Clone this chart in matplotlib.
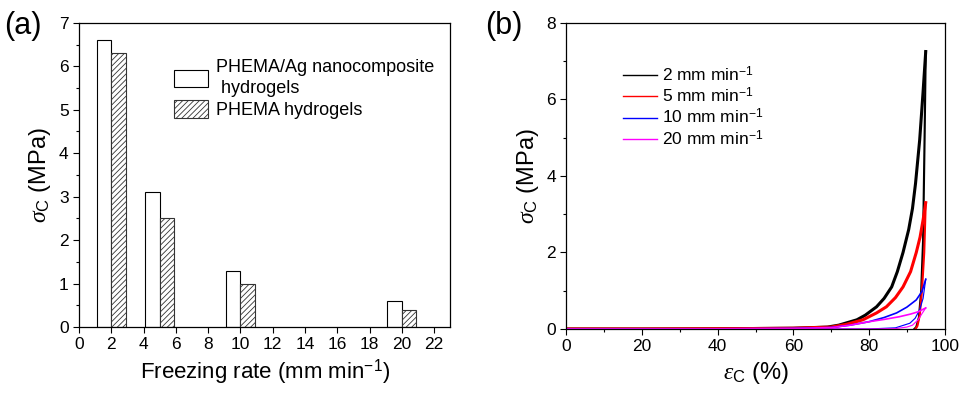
import numpy as np
import matplotlib.pyplot as plt
from matplotlib.ticker import MultipleLocator

plt.rcParams['font.family'] = ['Liberation Sans', 'DejaVu Sans']
plt.rcParams['mathtext.fontset'] = 'custom'
plt.rcParams['mathtext.rm'] = 'Liberation Sans'
plt.rcParams['mathtext.it'] = 'Liberation Serif:italic'
plt.rcParams['hatch.linewidth'] = 0.6

# panel (a): compressive strength vs freezing rate
rates = [2, 5, 10, 20]
ag_strength = [6.6, 3.1, 1.3, 0.6]
phema_strength = [6.3, 2.5, 1.0, 0.4]

# panel (b): loading / unloading cycles (strain %, stress MPa)
speed_labels = ['2 mm min$^{-1}$', '5 mm min$^{-1}$', '10 mm min$^{-1}$', '20 mm min$^{-1}$']
speed_colors = ['black', 'red', 'blue', 'magenta']
load_strain = [
    [0, 20, 40, 60, 69, 72, 76.8, 79, 82, 84, 86, 87.5, 89, 90.5, 91.5, 92.3, 93.4, 94.3, 95],
    [0, 20, 40, 60, 70, 74, 78.4, 82, 84.6, 87, 89, 91, 92.5, 93.5, 94.3, 95],
    [0, 20, 40, 60, 70, 75, 80, 84, 87.3, 90, 92.5, 94, 95],
    [0, 20, 40, 60, 70, 75, 80, 84, 88, 91, 93, 95],
]
load_stress = [
    [0, 0, 0.005, 0.02, 0.05, 0.1, 0.24, 0.36, 0.58, 0.8, 1.1, 1.5, 2.0, 2.6, 3.15, 3.8, 4.94, 6.2, 7.25],
    [0, 0, 0.005, 0.02, 0.05, 0.12, 0.24, 0.42, 0.58, 0.82, 1.1, 1.5, 2.0, 2.4, 2.85, 3.3],
    [0, 0, 0.004, 0.015, 0.04, 0.1, 0.19, 0.3, 0.42, 0.57, 0.76, 0.98, 1.3],
    [0, 0, 0.004, 0.015, 0.035, 0.1, 0.19, 0.25, 0.32, 0.39, 0.45, 0.55],
]
unload_strain = [
    [95, 94.7, 94.3, 93.8, 93.2, 92.5, 92],
    [95, 94.6, 94.0, 93.4, 92.8, 92.3],
    [95, 94.3, 93.4, 92.2, 90.8, 87, 80, 0],
    [95, 94, 93, 91.5, 90, 87, 80, 0],
]
unload_stress = [
    [7.25, 5.0, 2.3, 1.0, 0.3, 0.05, 0],
    [3.3, 2.0, 1.0, 0.35, 0.08, 0],
    [1.3, 0.8, 0.5, 0.28, 0.15, 0.03, 0, 0],
    [0.55, 0.4, 0.24, 0.1, 0.05, 0.01, 0, 0],
]

fig = plt.figure(figsize=(9.6, 3.94), dpi=100)
ax1 = fig.add_axes([0.0823, 0.170, 0.3867, 0.772])
ax2 = fig.add_axes([0.590, 0.165, 0.394, 0.777])

w = 0.9
x = np.array(rates, dtype=float)
ax1.bar(x - w / 2, ag_strength, w, color='white', edgecolor='black', lw=0.8,
        label='PHEMA/Ag nanocomposite\n hydrogels')
ax1.bar(x + w / 2, phema_strength, w, color='white', edgecolor='#333333', lw=0.8,
        hatch='//////', label='PHEMA hydrogels')
ax1.set_xlim(0, 23)
ax1.set_ylim(0, 7)
ax1.xaxis.set_major_locator(MultipleLocator(2))
ax1.yaxis.set_major_locator(MultipleLocator(1))
ax1.yaxis.set_minor_locator(MultipleLocator(0.5))
ax1.set_xlabel('Freezing rate (mm min$^{-1}$)', fontsize=16)
ax1.set_ylabel(r'$\sigma_\mathrm{C}$ (MPa)', fontsize=17)
leg1 = ax1.legend(loc='upper left', bbox_to_anchor=(0.237, 0.905), frameon=False,
                  fontsize=13, handlelength=1.85, handleheight=1.1, handletextpad=0.45,
                  labelspacing=0.2, borderaxespad=0)
for t in leg1.get_texts():
    t.set_linespacing(1.3)

for lx, ly, ux, uy, c in zip(load_strain, load_stress, unload_strain, unload_stress, speed_colors):
    lwid = 2.2 if c in ('black', 'red') else 1.2
    ax2.plot(lx, ly, color=c, lw=lwid)
    ax2.plot(ux, uy, color=c, lw=lwid * 0.7)
handles = [plt.Line2D([], [], color=c, lw=1) for c in speed_colors]
ax2.legend(handles, speed_labels, loc='upper left', bbox_to_anchor=(0.13, 0.885),
           frameon=False, fontsize=12.5, handlelength=2.0, handletextpad=0.25,
           labelspacing=0.12, borderaxespad=0)
ax2.set_xlim(0, 100)
ax2.set_ylim(0, 8)
ax2.xaxis.set_major_locator(MultipleLocator(20))
ax2.xaxis.set_minor_locator(MultipleLocator(10))
ax2.yaxis.set_major_locator(MultipleLocator(2))
ax2.yaxis.set_minor_locator(MultipleLocator(1))
ax2.set_xlabel(r'$\varepsilon_\mathrm{C}$ (%)', fontsize=17)
ax2.set_ylabel(r'$\sigma_\mathrm{C}$ (MPa)', fontsize=17)

for ax in (ax1, ax2):
    ax.tick_params(which='both', direction='out', labelsize=12.5, width=0.8)
    ax.tick_params(which='major', length=4)
    ax.tick_params(which='minor', length=2.5)
    for s in ax.spines.values():
        s.set_linewidth(0.9)

fig.text(0.004, 0.935, '(a)', fontsize=22, va='center')
fig.text(0.505, 0.935, '(b)', fontsize=22, va='center')

fig.savefig('out.png', dpi=100)
